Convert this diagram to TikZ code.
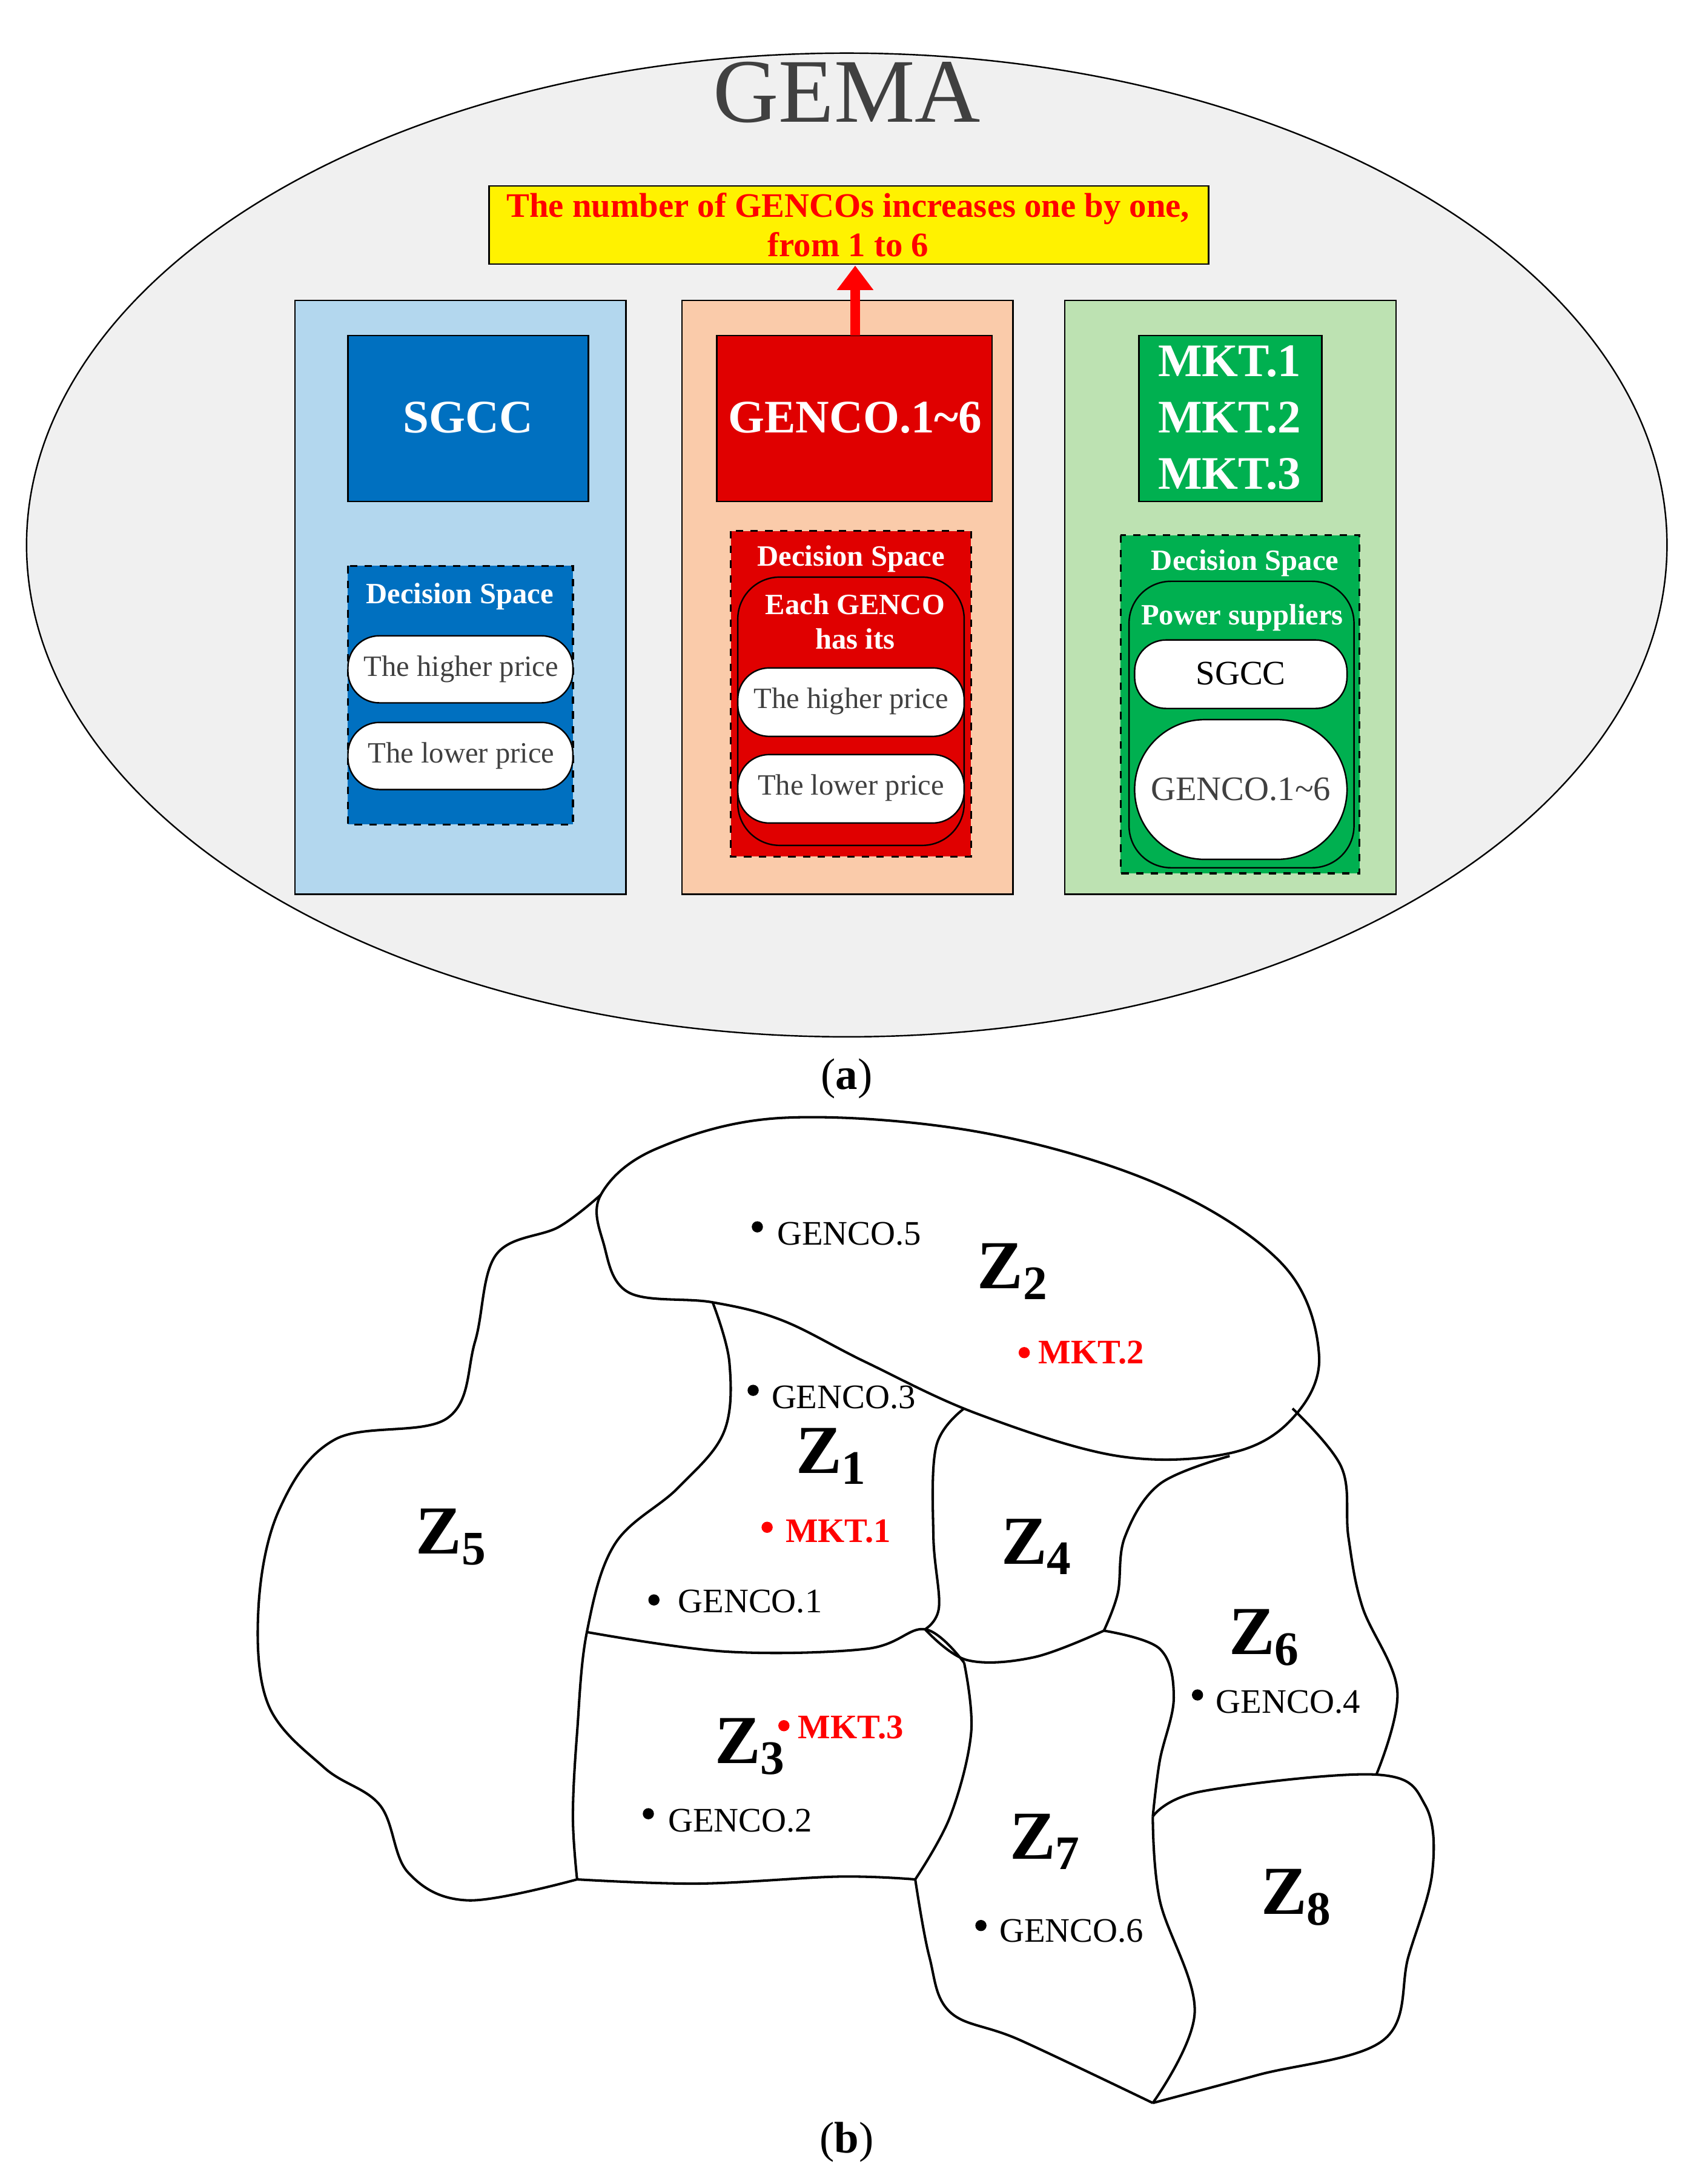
\documentclass[tikz,border=0pt]{standalone}
\usepackage{fontspec}
\setmainfont{Liberation Serif}
\usetikzlibrary{arrows.meta}
\definecolor{bgray}{RGB}{240,240,240}
\definecolor{tgray}{RGB}{64,64,64}
\definecolor{pblue}{RGB}{179,215,238}
\definecolor{dblue}{RGB}{0,112,192}
\definecolor{porange}{RGB}{250,203,170}
\definecolor{dred}{RGB}{224,0,0}
\definecolor{pgreen}{RGB}{189,226,178}
\definecolor{dgreen}{RGB}{0,176,80}
\tikzset{
 panel/.style={draw=black,line width=0.6pt},
 dspace/.style={draw=black,dashed,line width=0.8pt},
 pill/.style={draw=black,fill=white,rounded corners=0.45cm,line width=0.6pt},
 ptext/.style={text=tgray,font=\fontsize{12}{14}\selectfont},
 wtext/.style={text=white,font=\bfseries\fontsize{12}{14}\selectfont,align=center},
 big/.style={text=white,font=\bfseries\fontsize{19}{23}\selectfont,align=center},
 bd/.style={line width=1pt,line join=round},
 zl/.style={font=\bfseries\fontsize{28}{30}\selectfont},
 gl/.style={anchor=west,font=\fontsize{14}{16}\selectfont},
 ml/.style={anchor=west,text=red,font=\bfseries\fontsize{14}{16}\selectfont},
 dot/.style={circle,fill=black,inner sep=0pt,minimum size=0.16cm},
 rdot/.style={circle,fill=red,inner sep=0pt,minimum size=0.16cm},
}
\begin{document}
\begin{tikzpicture}[x=0.02cm,y=-0.02cm]
\useasboundingbox (0,0) rectangle (1210,1563);
% (a)
\draw[fill=bgray,line width=0.6pt] (606,390) ellipse [x radius=587,y radius=352];
\node[text=tgray,font=\fontsize{37}{40}\selectfont] (gema) at (606,66) {GEMA};
\draw[fill=yellow,line width=0.6pt] (350,133) rectangle (865,189);
\node[text=red,font=\bfseries\fontsize{14}{16}\selectfont,align=center] (inc) at (607,161) {The number of GENCOs increases one by one,\\from 1 to 6};
% blue
\draw[panel,fill=pblue] (211,215) rectangle (448,640);
\draw[panel,fill=dblue] (249,240) rectangle (421,359);
\node[big] (sgcc) at (335,299) {SGCC};
\draw[dspace,fill=dblue] (249,405) rectangle (410,590);
\node[wtext] (ds1) at (329,427) {Decision Space};
\draw[pill] (249,455) rectangle (410,503);
\node[ptext] (hp1) at (330,479) {The higher price};
\draw[pill] (249,517) rectangle (410,565);
\node[ptext] (lp1) at (330,541) {The lower price};
% orange
\draw[panel,fill=porange] (488,215) rectangle (725,640);
\draw[panel,fill=dred] (513,240) rectangle (710,359);
\coordinate (gtop) at (612,240);
\node[big] (genco) at (612,299) {GENCO.1\textasciitilde6};
\draw[dspace,fill=dred] (523,380) rectangle (695,613);
\node[wtext] (ds2) at (609,400) {Decision Space};
\draw[draw=black,rounded corners=0.6cm,line width=0.6pt] (528,413) rectangle (690,605);
\node[wtext] (each) at (612,445) {Each GENCO\\has its};
\draw[pill] (528,478) rectangle (690,527);
\node[ptext] (hp2) at (609,502) {The higher price};
\draw[pill] (528,540) rectangle (690,589);
\node[ptext] (lp2) at (609,564) {The lower price};
\draw[red,line width=4pt,-{Triangle[length=0.35cm,width=0.5cm]}] (gtop) -- (inc.south -| gtop);
% green
\draw[panel,fill=pgreen] (762,215) rectangle (999,640);
\draw[panel,fill=dgreen] (815,240) rectangle (946,359);
\node[big] (mkt) at (880,299) {MKT.1\\MKT.2\\MKT.3};
\draw[dspace,fill=dgreen] (802,383) rectangle (973,625);
\node[wtext] (ds3) at (891,403) {Decision Space};
\draw[draw=black,rounded corners=0.6cm,line width=0.6pt] (808,416) rectangle (969,621);
\node[wtext] (ps) at (889,442) {Power suppliers};
\draw[pill] (812,458) rectangle (964,507);
\node[ptext,text=black,font=\fontsize{14}{16}\selectfont] (sg2) at (888,482) {SGCC};
\draw[draw=black,fill=white,rounded corners=1cm,line width=0.6pt] (812,515) rectangle (964,615);
\node[ptext,font=\fontsize{14}{16}\selectfont] (g2) at (888,565) {GENCO.1\textasciitilde6};
\node[font=\fontsize{18}{20}\selectfont] (a) at (606,772) {(\textbf{a})};
% (b) map
\draw[bd] plot[smooth cycle,tension=0.6] coordinates {(430,855)(470,822)(560,800)(700,810)(830,848)(918,905)(944,970)(925,1015)(880,1040)(800,1042)(700,1012)(620,975)(560,945)(510,932)(450,925)(432,890)};
\draw[bd] plot[smooth,tension=0.6] coordinates {(510,932)(522,975)(518,1025)(485,1065)(440,1105)(420,1168)(413,1240)(410,1300)(413,1345)};
\draw[bd] plot[smooth,tension=0.6] coordinates {(430,855)(400,878)(355,898)(340,960)(320,1015)(240,1030)(200,1080)(185,1150)(192,1220)(232,1265)(272,1292)(292,1340)(335,1360)(413,1345)};
\draw[bd] plot[smooth,tension=0.6] coordinates {(420,1168)(520,1182)(620,1180)(662,1166)(690,1190)};
\draw[bd] plot[smooth,tension=0.6] coordinates {(690,1008)(670,1035)(668,1100)(672,1150)(662,1166)};
\draw[bd] plot[smooth,tension=0.6] coordinates {(880,1042)(830,1062)(805,1100)(800,1140)(790,1167)};
\draw[bd] plot[smooth,tension=0.6] coordinates {(662,1166)(692,1188)(740,1186)(790,1167)};
\draw[bd] plot[smooth,tension=0.6] coordinates {(925,1008)(960,1050)(965,1100)(975,1150)(1000,1210)(985,1270)};
\draw[bd] plot[smooth,tension=0.6] coordinates {(690,1190)(695,1240)(680,1300)(655,1345)};
\draw[bd] plot[smooth,tension=0.6] coordinates {(413,1345)(500,1348)(600,1343)(655,1345)};
\draw[bd] plot[smooth,tension=0.6] coordinates {(790,1167)(830,1180)(840,1215)(830,1260)(825,1300)};
\draw[bd] plot[smooth,tension=0.6] coordinates {(825,1300)(830,1360)(855,1440)(825,1505)};
\draw[bd] plot[smooth,tension=0.6] coordinates {(655,1345)(665,1400)(680,1440)(730,1460)(825,1505)};
\draw[bd] plot[smooth,tension=0.6] coordinates {(825,1300)(860,1282)(985,1270)(1020,1292)(1025,1340)(1008,1400)(990,1460)(900,1485)(825,1505)};
\node[zl] (z2) at (725,910) {Z\textsubscript{2}};
\node[zl] (z1) at (595,1042) {Z\textsubscript{1}};
\node[zl] (z5) at (323,1100) {Z\textsubscript{5}};
\node[zl] (z4) at (742,1107) {Z\textsubscript{4}};
\node[zl] (z6) at (905,1172) {Z\textsubscript{6}};
\node[zl] (z3) at (537,1250) {Z\textsubscript{3}};
\node[zl] (z7) at (748,1318) {Z\textsubscript{7}};
\node[zl] (z8) at (928,1358) {Z\textsubscript{8}};
\node[dot] (d5) at (542,878) {}; \node[gl] (g5) at (550,883) {GENCO.5};
\node[dot] (d3) at (539,995) {}; \node[gl] (g3) at (546,1000) {GENCO.3};
\node[dot] (d1) at (468,1145) {}; \node[gl] (g1) at (479,1146) {GENCO.1};
\node[dot] (d2) at (464,1298) {}; \node[gl] (gg2) at (472,1303) {GENCO.2};
\node[dot] (d4) at (857,1213) {}; \node[gl] (g4) at (864,1218) {GENCO.4};
\node[dot] (d6) at (702,1378) {}; \node[gl] (g6) at (709,1382) {GENCO.6};
\node[rdot] (m2) at (733,968) {}; \node[ml] (t2) at (737,968) {MKT.2};
\node[rdot] (m1) at (549,1093) {}; \node[ml] (t1) at (556,1096) {MKT.1};
\node[rdot] (m3) at (561,1235) {}; \node[ml] (t3) at (565,1236) {MKT.3};
\node[font=\fontsize{18}{20}\selectfont] (b) at (606,1533) {(\textbf{b})};
\end{tikzpicture}
\end{document}
